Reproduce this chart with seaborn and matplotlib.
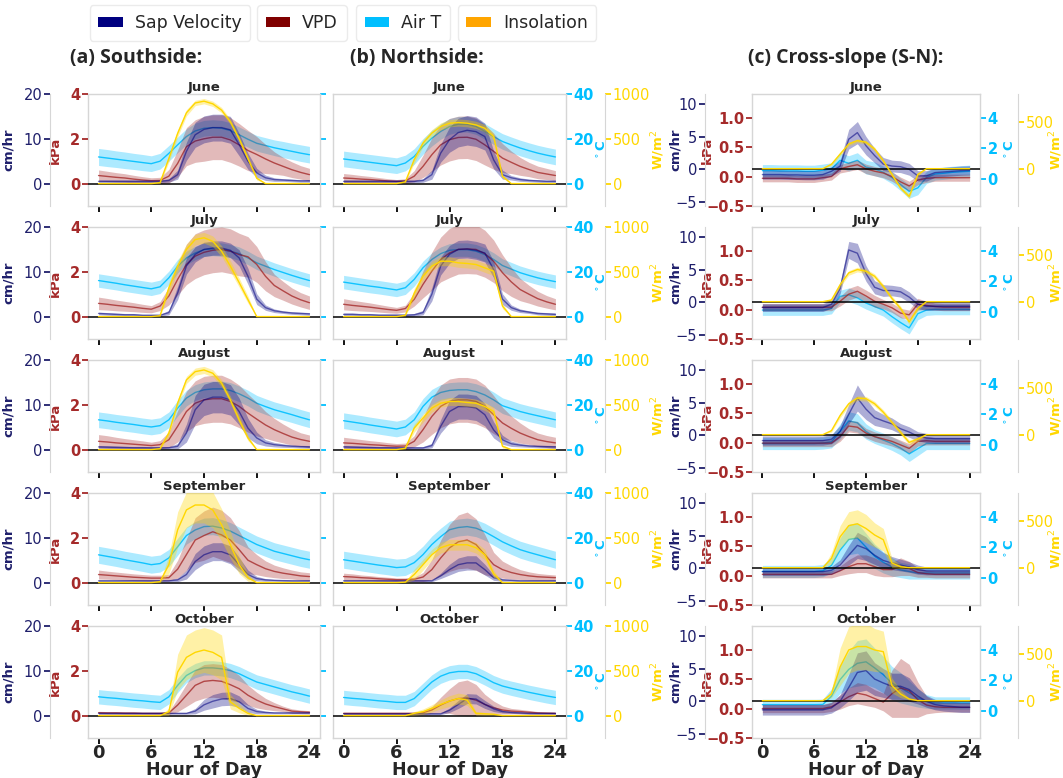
import matplotlib
matplotlib.use("Agg")
import matplotlib.pyplot as plt
from matplotlib.patches import Patch
import numpy as np
import pandas as pd
import seaborn as sns

sns.set_style("white")
plt.rcParams["font.family"] = ["DejaVu Sans"]

HOURS = list(range(25))
MONTHS = ["June", "July", "August", "September", "October"]

# ---------------- (a) Southside: hourly means and band half-widths ----------------
S_SAP = {
    "June":      [0.5,0.5,0.5,0.5,0.5,0.5,0.5,0.5,0.7,2.0,7.2,10.9,12.1,12.5,12.5,12.0,8.7,5.0,2.4,1.3,0.9,0.8,0.7,0.6,0.6],
    "July":      [0.7,0.6,0.5,0.4,0.4,0.3,0.3,0.3,0.9,5.3,11.3,13.9,15.0,15.3,15.3,14.8,13.1,9.0,3.9,2.0,1.3,1.0,0.8,0.7,0.6],
    "August":    [0.6,0.55,0.5,0.45,0.4,0.4,0.37,0.37,0.4,0.74,3.7,8.9,11.1,11.7,11.7,11.1,8.5,4.8,2.6,1.5,1.1,0.9,0.75,0.65,0.6],
    "September": [0.4,0.4,0.4,0.4,0.4,0.4,0.4,0.4,0.4,0.6,1.8,4.7,6.2,6.9,6.9,6.2,4.0,1.8,0.9,0.6,0.5,0.45,0.4,0.4,0.4],
    "October":   [0.5,0.5,0.5,0.5,0.5,0.5,0.5,0.5,0.5,0.5,0.5,1.0,2.4,3.2,3.7,3.8,3.1,1.6,0.9,0.7,0.6,0.6,0.6,0.6,0.6],
}
S_SAP_SD = {
    "June":      [0.3,0.3,0.3,0.3,0.3,0.3,0.3,0.3,0.4,1.0,2.0,2.8,3.0,3.0,3.0,3.0,2.5,1.8,1.0,0.6,0.4,0.3,0.3,0.3,0.3],
    "July":      [0.3,0.3,0.3,0.3,0.3,0.2,0.2,0.2,0.5,1.5,1.8,1.7,1.6,1.6,1.6,1.6,1.8,1.8,1.2,0.6,0.4,0.3,0.3,0.3,0.3],
    "August":    [0.3,0.3,0.3,0.3,0.3,0.3,0.3,0.3,0.3,0.6,2.0,3.2,3.5,3.5,3.5,3.4,3.0,2.2,1.3,0.7,0.5,0.4,0.3,0.3,0.3],
    "September": [0.2,0.2,0.2,0.2,0.2,0.2,0.2,0.2,0.2,0.4,1.0,1.8,2.0,2.0,2.0,2.0,1.6,1.0,0.5,0.3,0.2,0.2,0.2,0.2,0.2],
    "October":   [0.2,0.2,0.2,0.2,0.2,0.2,0.2,0.2,0.2,0.2,0.2,0.6,1.2,1.5,1.5,1.5,1.3,0.9,0.5,0.3,0.2,0.2,0.2,0.2,0.2],
}
S_VPD = {
    "June":      [0.36,0.32,0.28,0.25,0.2,0.16,0.13,0.14,0.33,0.9,1.65,1.9,2.0,2.07,2.07,1.95,1.73,1.48,1.3,1.1,0.92,0.77,0.62,0.5,0.4],
    "July":      [0.59,0.55,0.5,0.46,0.42,0.37,0.33,0.47,0.92,1.66,2.33,2.7,2.87,2.96,3.0,2.92,2.77,2.67,2.33,1.8,1.39,1.15,0.92,0.75,0.62],
    "August":    [0.37,0.34,0.3,0.27,0.24,0.21,0.18,0.22,0.44,1.04,1.7,2.07,2.22,2.27,2.27,2.15,1.93,1.63,1.36,1.1,0.89,0.72,0.56,0.45,0.37],
    "September": [0.36,0.33,0.3,0.27,0.24,0.22,0.2,0.2,0.22,0.6,1.25,1.9,2.1,2.27,2.13,1.9,1.47,1.0,0.8,0.62,0.5,0.42,0.36,0.3,0.27],
    "October":   [0.13,0.12,0.12,0.11,0.11,0.1,0.1,0.1,0.12,0.47,0.91,1.35,1.53,1.57,1.53,1.38,1.2,0.91,0.69,0.52,0.4,0.3,0.2,0.17,0.15],
}
S_VPD_SD = {
    "June":      [0.25,0.23,0.21,0.19,0.17,0.15,0.13,0.14,0.3,0.6,0.85,0.95,1.0,1.0,1.0,1.0,0.95,0.9,0.8,0.65,0.5,0.4,0.35,0.3,0.28],
    "July":      [0.28,0.26,0.24,0.22,0.2,0.18,0.16,0.2,0.4,0.7,0.9,1.0,1.0,1.0,1.0,1.0,0.95,0.9,0.8,0.65,0.5,0.42,0.36,0.32,0.3],
    "August":    [0.3,0.28,0.25,0.22,0.2,0.18,0.15,0.18,0.35,0.7,0.9,1.0,1.05,1.05,1.05,1.0,0.95,0.85,0.75,0.6,0.5,0.42,0.36,0.3,0.28],
    "September": [0.2,0.18,0.17,0.16,0.15,0.14,0.13,0.13,0.14,0.4,0.7,1.0,1.1,1.1,1.1,1.0,0.85,0.6,0.45,0.35,0.28,0.24,0.2,0.18,0.17],
    "October":   [0.06,0.06,0.06,0.06,0.06,0.05,0.05,0.05,0.06,0.3,0.5,0.7,0.75,0.75,0.75,0.7,0.6,0.45,0.35,0.25,0.18,0.12,0.1,0.08,0.07],
}
S_TAIR = {
    "June":      [11.9,11.4,10.9,10.4,9.9,9.4,8.9,10.0,13.5,17.3,21.0,23.5,24.7,25.0,24.7,23.7,21.8,19.8,18.0,17.0,16.0,15.2,14.4,13.6,12.9],
    "July":      [16.1,15.5,14.9,14.2,13.6,13.0,12.4,13.3,17.3,22.5,26.2,28.4,29.9,30.2,29.9,29.2,28.1,26.2,24.0,22.5,21.0,19.7,18.4,17.2,16.1],
    "August":    [13.3,12.8,12.2,11.7,11.2,10.6,10.1,10.7,13.3,18.5,23.0,25.5,26.7,27.1,27.1,26.4,24.9,23.0,20.7,19.2,17.8,16.7,15.6,14.4,13.3],
    "September": [12.4,11.7,11.0,10.2,9.5,8.8,8.0,8.5,11.0,16.0,21.0,23.5,25.0,25.2,24.4,23.0,21.0,19.0,17.0,15.5,14.0,13.0,12.0,11.0,10.2],
    "October":   [8.4,8.0,7.7,7.3,6.9,6.6,6.2,5.9,8.4,13.5,17.9,20.1,21.3,21.3,20.9,20.1,18.7,16.8,15.0,13.9,12.8,11.7,10.6,9.7,8.7],
}
S_TAIR_SD = {
    "June":      [3.8,3.8,3.7,3.7,3.6,3.6,3.5,3.5,3.5,3.5,3.5,3.5,3.5,3.5,3.5,3.5,3.5,3.5,3.5,3.5,3.5,3.6,3.6,3.7,3.7],
    "July":      [3.0,3.0,3.0,3.0,3.0,3.0,3.0,3.0,3.0,3.0,3.0,3.0,3.0,3.0,3.0,3.0,3.0,3.0,3.0,3.0,3.0,3.0,3.0,3.0,3.0],
    "August":    [3.5,3.5,3.5,3.5,3.5,3.5,3.5,3.5,3.5,3.5,3.5,3.5,3.5,3.5,3.5,3.5,3.5,3.5,3.5,3.5,3.5,3.5,3.5,3.5,3.5],
    "September": [3.8,3.8,3.8,3.8,3.8,3.8,3.8,3.8,3.8,3.8,3.8,3.8,3.8,3.8,3.8,3.8,3.8,3.8,3.8,3.8,3.8,3.8,3.8,3.8,3.8],
    "October":   [3.2,3.2,3.2,3.2,3.2,3.2,3.2,3.2,3.2,3.2,3.2,3.2,3.2,3.2,3.2,3.2,3.2,3.2,3.2,3.2,3.2,3.2,3.2,3.2,3.2],
}
S_INS = {
    "June":      [0,0,0,0,0,0,0,10,280,560,790,900,920,890,820,690,500,280,60,0,0,0,0,0,0],
    "July":      [0,0,0,0,0,0,0,10,320,560,750,860,880,840,730,563,380,190,0,0,0,0,0,0,0],
    "August":    [0,0,0,0,0,0,0,10,185,518,778,870,889,852,741,555,333,130,0,0,0,0,0,0,0],
    "September": [0,0,0,0,0,0,0,10,200,589,811,866,866,811,644,422,200,55,0,0,0,0,0,0,0],
    "October":   [0,0,0,0,0,0,0,0,44,485,650,706,732,706,650,154,81,25,0,0,0,0,0,0,0],
}
S_INS_SD = {
    "June":      [0,0,0,0,0,0,0,10,40,40,35,30,30,30,30,30,30,30,20,0,0,0,0,0,0],
    "July":      [0,0,0,0,0,0,0,10,60,60,60,60,60,60,60,60,50,40,0,0,0,0,0,0,0],
    "August":    [0,0,0,0,0,0,0,10,40,40,40,40,40,40,40,40,40,30,0,0,0,0,0,0,0],
    "September": [0,0,0,0,0,0,0,10,100,200,200,200,200,200,180,150,100,40,0,0,0,0,0,0,0],
    "October":   [0,0,0,0,0,0,0,0,40,200,250,250,250,250,250,80,50,20,0,0,0,0,0,0,0],
}

# ---------------- (b) Northside ----------------
N_SAP = {
    "June":      [0.5,0.5,0.5,0.5,0.5,0.5,0.5,0.5,0.5,0.7,2.0,6.8,9.8,11.4,11.9,11.6,10.5,5.3,2.0,1.3,0.9,0.7,0.6,0.5,0.5],
    "July":      [0.5,0.5,0.4,0.4,0.3,0.3,0.3,0.3,0.4,0.9,5.0,11.3,13.9,15.0,15.1,14.8,14.2,10.5,3.9,2.0,1.3,1.0,0.7,0.6,0.5],
    "August":    [0.6,0.55,0.5,0.45,0.4,0.4,0.37,0.37,0.37,0.37,0.9,5.2,8.5,9.6,9.6,9.3,7.8,4.4,2.2,1.3,1.0,0.8,0.7,0.65,0.6],
    "September": [0.4,0.4,0.4,0.4,0.4,0.4,0.4,0.4,0.4,0.4,0.4,1.5,2.9,4.0,4.4,4.4,2.9,1.1,0.6,0.5,0.4,0.4,0.4,0.4,0.4],
    "October":   [0.4,0.4,0.4,0.4,0.4,0.4,0.4,0.4,0.4,0.4,0.4,0.4,1.2,2.5,3.8,3.7,2.5,1.5,0.9,0.7,0.6,0.5,0.5,0.5,0.5],
}
N_SAP_SD = {
    "June":      [0.3,0.3,0.3,0.3,0.3,0.3,0.3,0.3,0.3,0.4,1.0,2.0,2.8,3.2,3.3,3.3,3.0,2.0,1.0,0.5,0.4,0.3,0.3,0.3,0.3],
    "July":      [0.3,0.3,0.3,0.3,0.3,0.3,0.3,0.3,0.3,0.5,1.5,2.0,2.0,2.0,2.0,2.0,2.0,1.8,1.2,0.6,0.4,0.3,0.3,0.3,0.3],
    "August":    [0.3,0.3,0.3,0.3,0.3,0.3,0.3,0.3,0.3,0.3,0.5,1.5,2.5,2.8,2.8,2.8,2.5,1.8,1.0,0.6,0.4,0.3,0.3,0.3,0.3],
    "September": [0.2,0.2,0.2,0.2,0.2,0.2,0.2,0.2,0.2,0.2,0.2,0.6,1.2,1.5,1.6,1.6,1.2,0.6,0.3,0.2,0.2,0.2,0.2,0.2,0.2],
    "October":   [0.2,0.2,0.2,0.2,0.2,0.2,0.2,0.2,0.2,0.2,0.2,0.2,0.5,0.9,1.1,1.1,0.9,0.6,0.3,0.2,0.2,0.2,0.2,0.2,0.2],
}
N_VPD = {
    "June":      [0.25,0.23,0.2,0.18,0.15,0.12,0.1,0.12,0.33,0.77,1.29,1.73,1.96,2.06,2.07,1.98,1.73,1.44,1.14,0.95,0.77,0.63,0.5,0.43,0.36],
    "July":      [0.55,0.5,0.46,0.42,0.37,0.32,0.28,0.36,0.77,1.44,2.03,2.55,2.84,3.0,3.02,3.0,2.81,2.47,1.96,1.55,1.21,1.0,0.8,0.66,0.55],
    "August":    [0.3,0.28,0.25,0.22,0.2,0.17,0.15,0.16,0.37,0.89,1.48,1.93,2.15,2.22,2.22,2.15,1.93,1.56,1.19,0.95,0.74,0.58,0.44,0.36,0.3],
    "September": [0.27,0.25,0.22,0.2,0.17,0.15,0.13,0.13,0.15,0.25,0.58,1.1,1.55,1.82,1.9,1.7,1.25,0.8,0.58,0.45,0.36,0.3,0.26,0.24,0.22],
    "October":   [0.1,0.1,0.1,0.1,0.1,0.1,0.1,0.1,0.1,0.13,0.25,0.47,0.65,0.76,0.79,0.69,0.5,0.35,0.25,0.2,0.18,0.15,0.12,0.11,0.1],
}
N_VPD_SD = {
    "June":      [0.2,0.18,0.16,0.14,0.12,0.1,0.08,0.1,0.25,0.5,0.75,0.9,0.95,0.95,0.95,0.95,0.9,0.8,0.65,0.5,0.4,0.32,0.28,0.25,0.22],
    "July":      [0.25,0.23,0.21,0.19,0.17,0.15,0.13,0.15,0.3,0.6,0.85,1.0,1.1,1.1,1.1,1.1,1.05,0.95,0.8,0.65,0.5,0.4,0.33,0.28,0.25],
    "August":    [0.25,0.22,0.2,0.18,0.16,0.14,0.12,0.13,0.25,0.55,0.8,0.95,1.0,1.0,1.0,1.0,0.95,0.85,0.7,0.55,0.45,0.35,0.3,0.27,0.25],
    "September": [0.15,0.14,0.12,0.11,0.1,0.09,0.08,0.08,0.09,0.2,0.45,0.8,1.05,1.2,1.25,1.15,0.9,0.55,0.38,0.3,0.22,0.18,0.15,0.13,0.12],
    "October":   [0.05,0.05,0.05,0.05,0.05,0.05,0.05,0.05,0.05,0.08,0.15,0.35,0.55,0.75,0.8,0.7,0.45,0.3,0.18,0.12,0.1,0.08,0.06,0.05,0.05],
}
N_TAIR = {
    "June":      [11.0,10.5,10.0,9.5,9.0,8.5,8.0,9.2,12.1,16.6,20.3,23.3,25.5,26.5,26.5,25.5,23.3,21.0,18.8,17.3,15.9,14.7,13.6,12.7,11.9],
    "July":      [15.4,14.8,14.2,13.6,13.1,12.5,11.9,12.9,16.6,21.8,25.5,28.1,29.6,29.9,29.9,29.2,27.7,25.5,22.8,21.2,19.6,18.4,17.3,16.4,15.6],
    "August":    [12.9,12.3,11.7,11.0,10.4,9.8,9.2,10.1,13.3,19.3,23.4,25.5,26.4,26.7,26.7,25.9,24.4,22.2,19.6,18.3,17.0,16.0,15.1,14.2,13.3],
    "September": [10.2,9.6,9.0,8.4,7.8,7.3,6.7,7.0,8.9,12.5,17.0,20.5,23.6,24.6,25.0,24.3,22.7,20.5,18.2,16.4,14.7,13.5,12.4,11.3,10.2],
    "October":   [8.1,7.7,7.4,7.0,6.6,6.3,5.9,5.9,7.6,11.3,15.0,17.6,19.1,19.7,19.7,18.7,16.8,14.7,13.2,12.2,11.3,10.4,9.6,8.8,8.1],
}
N_TAIR_SD = {
    "June":      [3.5,3.5,3.5,3.5,3.5,3.5,3.5,3.5,3.5,3.5,3.5,3.5,3.5,3.5,3.5,3.5,3.5,3.5,3.5,3.5,3.5,3.5,3.5,3.5,3.5],
    "July":      [3.0,3.0,3.0,3.0,3.0,3.0,3.0,3.0,3.0,3.0,3.0,3.0,3.0,3.0,3.0,3.0,3.0,3.0,3.0,3.0,3.0,3.0,3.0,3.0,3.0],
    "August":    [3.5,3.5,3.5,3.5,3.5,3.5,3.5,3.5,3.5,3.5,3.5,3.5,3.5,3.5,3.5,3.5,3.5,3.5,3.5,3.5,3.5,3.5,3.5,3.5,3.5],
    "September": [3.8,3.8,3.8,3.8,3.8,3.8,3.8,3.8,3.8,3.8,3.8,3.8,3.8,3.8,3.8,3.8,3.8,3.8,3.8,3.8,3.8,3.8,3.8,3.8,3.8],
    "October":   [3.2,3.2,3.2,3.2,3.2,3.2,3.2,3.2,3.2,3.2,3.2,3.2,3.2,3.2,3.2,3.2,3.2,3.2,3.2,3.2,3.2,3.2,3.2,3.2,3.2],
}
N_INS = {
    "June":      [0,0,0,0,0,0,0,20,267,452,563,637,674,681,674,655,618,526,81,0,0,0,0,0,0],
    "July":      [0,0,0,0,0,0,0,15,260,450,563,618,618,600,593,581,544,507,118,0,0,0,0,0,0],
    "August":    [0,0,0,0,0,0,0,15,240,352,463,518,537,537,526,518,481,426,37,0,0,0,0,0,0],
    "September": [0,0,0,0,0,0,0,5,90,200,311,389,422,422,422,389,311,100,0,0,0,0,0,0,0],
    "October":   [0,0,0,0,0,0,0,0,25,44,81,125,162,191,173,25,20,15,0,0,0,0,0,0,0],
}
N_INS_SD = {
    "June":      [0,0,0,0,0,0,0,10,40,40,40,40,40,40,40,40,40,40,20,0,0,0,0,0,0],
    "July":      [0,0,0,0,0,0,0,10,50,50,50,50,50,50,50,50,50,50,30,0,0,0,0,0,0],
    "August":    [0,0,0,0,0,0,0,10,45,45,45,45,45,45,45,45,45,45,20,0,0,0,0,0,0],
    "September": [0,0,0,0,0,0,0,5,60,60,60,60,60,60,60,60,60,40,0,0,0,0,0,0,0],
    "October":   [0,0,0,0,0,0,0,0,20,30,40,50,60,60,60,20,15,10,0,0,0,0,0,0,0],
}

# ---------------- (c) Cross-slope (S-N) differences ----------------
C_SAP = {
    "June":      [-0.8,-0.8,-0.8,-0.85,-0.85,-0.9,-0.9,-0.8,-0.3,0.5,4.6,5.6,3.6,2.1,0.8,0.5,0.4,0.0,-1.0,-1.0,-0.5,-0.4,-0.3,-0.2,-0.15],
    "July":      [-0.8,-0.8,-0.8,-0.8,-0.8,-0.8,-0.8,-0.8,-0.3,2.1,8.0,7.5,4.4,2.3,1.8,1.8,1.6,0.8,-0.3,-0.6,-0.6,-0.6,-0.6,-0.6,-0.6],
    "August":    [-0.8,-0.8,-0.8,-0.8,-0.8,-0.8,-0.8,-0.8,-0.6,0.6,3.2,5.7,4.0,2.7,2.2,1.75,1.0,0.5,-0.15,-0.4,-0.5,-0.5,-0.5,-0.5,-0.5],
    "September": [-0.5,-0.5,-0.5,-0.5,-0.5,-0.5,-0.5,-0.5,-0.3,0.5,2.0,3.5,3.0,2.0,1.2,0.8,0.5,0.2,-0.2,-0.4,-0.4,-0.4,-0.4,-0.4,-0.4],
    "October":   [-1.3,-1.3,-1.3,-1.3,-1.3,-1.3,-1.3,-1.3,-1.0,0.0,2.1,4.4,4.7,3.4,2.8,2.3,2.3,1.8,0.8,0.0,-0.5,-0.7,-0.8,-0.9,-0.9],
}
C_SAP_SD = {
    "June":      [0.7,0.7,0.7,0.7,0.7,0.7,0.7,0.7,0.7,0.8,1.5,1.7,1.4,1.1,1.0,0.9,0.9,0.9,0.8,0.8,0.7,0.7,0.7,0.7,0.7],
    "July":      [0.6,0.6,0.6,0.6,0.6,0.6,0.6,0.6,0.6,0.8,1.3,1.5,1.2,1.0,0.9,0.8,0.8,0.8,0.7,0.6,0.6,0.6,0.6,0.6,0.6],
    "August":    [0.7,0.7,0.7,0.7,0.7,0.7,0.7,0.7,0.7,0.9,1.5,2.0,1.6,1.2,1.0,0.9,0.8,0.8,0.7,0.7,0.7,0.7,0.7,0.7,0.7],
    "September": [0.6,0.6,0.6,0.6,0.6,0.6,0.6,0.6,0.6,0.8,1.5,2.0,1.8,1.4,1.2,1.0,0.9,0.8,0.7,0.6,0.6,0.6,0.6,0.6,0.6],
    "October":   [0.8,0.8,0.8,0.8,0.8,0.8,0.8,0.8,0.8,1.0,2.0,3.0,3.0,2.5,2.2,2.0,2.0,1.8,1.2,0.9,0.8,0.8,0.8,0.8,0.8],
}
C_VPD = {
    "June":      [-0.03,-0.03,-0.03,-0.03,-0.04,-0.04,-0.04,-0.02,0.0,0.13,0.17,0.2,0.13,0.09,0.06,0.0,-0.09,-0.16,-0.06,-0.03,-0.02,-0.02,-0.02,-0.02,-0.02],
    "July":      [0.04,0.04,0.04,0.04,0.04,0.04,0.04,0.04,0.04,0.14,0.26,0.31,0.23,0.14,0.09,0.03,-0.06,-0.09,0.09,0.07,0.05,0.04,0.04,0.04,0.04],
    "August":    [-0.01,-0.01,-0.01,-0.01,-0.01,-0.01,-0.01,-0.01,-0.01,0.1,0.28,0.26,0.16,0.1,0.06,0.02,-0.04,-0.1,0.02,0.03,0.02,0.02,0.02,0.02,0.02],
    "September": [0.02,0.02,0.02,0.02,0.02,0.02,0.02,0.02,0.02,0.08,0.15,0.2,0.2,0.15,0.1,0.1,0.15,0.12,0.05,0.03,0.02,0.02,0.02,0.02,0.02],
    "October":   [0.0,0.0,0.0,0.0,0.0,0.0,0.0,0.0,0.03,0.11,0.2,0.26,0.23,0.17,0.11,0.25,0.35,0.3,0.15,0.06,0.03,0.02,0.02,0.02,0.02],
}
C_VPD_SD = {
    "June":      [0.06,0.06,0.06,0.06,0.06,0.06,0.06,0.06,0.06,0.07,0.08,0.08,0.08,0.08,0.08,0.08,0.08,0.08,0.08,0.07,0.06,0.06,0.06,0.06,0.06],
    "July":      [0.06,0.06,0.06,0.06,0.06,0.06,0.06,0.06,0.06,0.08,0.1,0.1,0.1,0.1,0.08,0.08,0.08,0.08,0.1,0.07,0.06,0.06,0.06,0.06,0.06],
    "August":    [0.06,0.06,0.06,0.06,0.06,0.06,0.06,0.06,0.06,0.08,0.1,0.1,0.08,0.08,0.08,0.08,0.08,0.08,0.08,0.07,0.06,0.06,0.06,0.06,0.06],
    "September": [0.06,0.06,0.06,0.06,0.06,0.06,0.06,0.06,0.06,0.08,0.12,0.15,0.15,0.15,0.12,0.12,0.15,0.12,0.08,0.06,0.06,0.06,0.06,0.06,0.06],
    "October":   [0.07,0.07,0.07,0.07,0.07,0.07,0.07,0.07,0.08,0.12,0.15,0.18,0.18,0.15,0.15,0.4,0.5,0.45,0.3,0.15,0.1,0.08,0.08,0.08,0.08],
}
C_TAIR = {
    "June":      [0.52,0.52,0.5,0.5,0.5,0.48,0.48,0.55,0.64,1.2,1.0,1.2,0.75,0.64,0.41,0.07,-0.39,-0.84,-0.61,0.07,0.3,0.35,0.41,0.45,0.48],
    "July":      [0.1,0.1,0.1,0.1,0.1,0.1,0.1,0.1,0.2,1.0,1.1,0.9,0.56,0.33,0.1,-0.33,-0.72,-1.07,-0.14,0.1,0.14,0.14,0.14,0.14,0.14],
    "August":    [0.07,0.07,0.07,0.07,0.07,0.07,0.07,0.1,0.18,0.86,1.55,1.43,0.86,0.52,0.3,0.07,-0.23,-0.61,-0.27,0.07,0.07,0.07,0.07,0.07,0.07],
    "September": [0.4,0.4,0.4,0.4,0.4,0.4,0.4,0.45,0.8,1.8,2.5,2.6,2.0,1.4,1.0,0.7,0.5,0.4,0.3,0.3,0.3,0.3,0.3,0.3,0.3],
    "October":   [0.39,0.39,0.39,0.39,0.39,0.39,0.39,0.4,0.94,2.03,2.7,3.1,3.2,2.8,2.36,1.8,1.5,1.16,0.83,0.6,0.5,0.5,0.5,0.5,0.5],
}
C_TAIR_SD = {
    "June":      [0.4,0.4,0.4,0.4,0.4,0.4,0.4,0.4,0.4,0.5,0.5,0.5,0.45,0.45,0.4,0.4,0.4,0.45,0.45,0.4,0.4,0.4,0.4,0.4,0.4],
    "July":      [0.35,0.35,0.35,0.35,0.35,0.35,0.35,0.35,0.35,0.4,0.45,0.45,0.4,0.4,0.4,0.4,0.4,0.4,0.4,0.35,0.35,0.35,0.35,0.35,0.35],
    "August":    [0.4,0.4,0.4,0.4,0.4,0.4,0.4,0.4,0.4,0.5,0.6,0.6,0.5,0.45,0.45,0.45,0.45,0.5,0.45,0.4,0.4,0.4,0.4,0.4,0.4],
    "September": [0.4,0.4,0.4,0.4,0.4,0.4,0.4,0.4,0.5,0.8,1.0,1.0,0.9,0.8,0.7,0.6,0.5,0.5,0.4,0.4,0.4,0.4,0.4,0.4,0.4],
    "October":   [0.35,0.35,0.35,0.35,0.35,0.35,0.35,0.35,0.5,0.9,1.2,1.5,1.5,1.3,1.2,1.1,1.0,0.8,0.6,0.45,0.4,0.4,0.4,0.4,0.4],
}
C_INS = {
    "June":      [0,0,0,0,0,0,0,0,47,156,264,300,283,210,83,-62,-207,-297,-62,0,0,0,0,0,0],
    "July":      [0,0,0,0,0,0,0,0,18,181,308,344,326,272,163,36,-72,-217,-72,0,0,0,0,0,0],
    "August":    [0,0,0,0,0,0,0,0,43,205,331,392,385,331,241,133,25,-83,-47,0,0,0,0,0,0],
    "September": [0,0,0,0,0,0,0,0,100,330,450,470,420,350,300,50,10,0,0,0,0,0,0,0,0],
    "October":   [0,0,0,0,0,0,0,0,72,362,543,580,580,543,525,163,72,18,0,0,0,0,0,0,0],
}
C_INS_SD = {
    "June":      [0,0,0,0,0,0,0,0,15,20,20,20,20,20,20,20,20,25,20,0,0,0,0,0,0],
    "July":      [0,0,0,0,0,0,0,0,15,25,25,25,25,25,25,25,25,30,25,0,0,0,0,0,0],
    "August":    [0,0,0,0,0,0,0,0,15,25,25,25,25,25,25,25,25,25,25,0,0,0,0,0,0],
    "September": [0,0,0,0,0,0,0,0,60,120,150,150,150,130,120,50,20,0,0,0,0,0,0,0,0],
    "October":   [0,0,0,0,0,0,0,0,40,200,250,250,250,230,220,80,40,10,0,0,0,0,0,0,0],
}

COLUMNS = [
    dict(sap=S_SAP, sap_sd=S_SAP_SD, vpd=S_VPD, vpd_sd=S_VPD_SD, tair=S_TAIR, tair_sd=S_TAIR_SD, ins=S_INS, ins_sd=S_INS_SD),
    dict(sap=N_SAP, sap_sd=N_SAP_SD, vpd=N_VPD, vpd_sd=N_VPD_SD, tair=N_TAIR, tair_sd=N_TAIR_SD, ins=N_INS, ins_sd=N_INS_SD),
    dict(sap=C_SAP, sap_sd=C_SAP_SD, vpd=C_VPD, vpd_sd=C_VPD_SD, tair=C_TAIR, tair_sd=C_TAIR_SD, ins=C_INS, ins_sd=C_INS_SD),
]
COLUMN_TITLES = ["(a) Southside:", "(b) Northside:", "(c) Cross-slope (S-N):"]

# colours
SAP_C, VPD_C, TAIR_C, INS_C = "navy", "brown", "deepskyblue", "gold"
SAP_TXT, VPD_TXT, TAIR_TXT, INS_TXT = "#1f1f6b", "#a52a2a", "#00bfff", "#ffd700"
BOX_C = "#d6d6d6"

# y-limits and ticks for the four stacked axes
LIMS_SIDE = dict(sap=(-5, 20), vpd=(-1, 4), tair=(-10, 40), ins=(-250, 1000))
LIMS_CROSS = dict(sap=(-5.6, 11.5), vpd=(-0.5, 1.4), tair=(-1.8, 5.55), ins=(-400, 800))
TICKS_SIDE = dict(sap=[0, 10, 20], vpd=[0, 2, 4], tair=[0, 20, 40], ins=[0, 500, 1000])
TICKS_CROSS = dict(sap=[-5, 0, 5, 10], vpd=[-0.5, 0.0, 0.5, 1.0], tair=[0, 2, 4], ins=[0, 500])

W, H = 1063, 778
DPI = 100
fig = plt.figure(figsize=(W / DPI, H / DPI), dpi=DPI)

COL_X = [(88, 232), (333, 233), (752, 228)]
ROW_TOP = [94, 227, 360, 493, 626]
BOX_H = 112
# horizontal centres (figure px) of the y-axis titles per column
LABEL_X = {0: dict(sap=15, vpd=62), 1: dict(tair=596, ins=649),
           2: dict(sap=682, vpd=714, tair=1004, ins=1047)}
# outward offsets (px) of the extra sap-velocity / insolation spines
SAP_OFFSET = {0: 38, 2: 47}
INS_OFFSET = {1: 39, 2: 38}


def px_to_pt(px):
    return px * 72.0 / DPI


def band_frame(mean, sd):
    rows = []
    for h, m, s in zip(HOURS, mean, sd):
        rows += [(h, m - s), (h, m), (h, m + s)]
    return pd.DataFrame(rows, columns=["hour", "value"])


def draw_series(ax, mean, sd, color, line_alpha, band_alpha, lw=1.0):
    sns.lineplot(data=band_frame(mean, sd), x="hour", y="value", ax=ax,
                 estimator="median", errorbar=("pi", 100), color=color,
                 alpha=line_alpha, linewidth=lw,
                 err_kws={"alpha": band_alpha, "linewidth": 0})
    ax.set_xlabel("")
    ax.set_ylabel("")


def style_y(ax, color, side, show_labels, ticks, lim, label_fmt=None):
    ax.set_ylim(*lim)
    ax.set_yticks(ticks)
    if label_fmt:
        ax.set_yticklabels([label_fmt(t) for t in ticks])
    if side == "left":
        ax.yaxis.tick_left()
        ax.yaxis.set_label_position("left")
    else:
        ax.yaxis.tick_right()
        ax.yaxis.set_label_position("right")
    ax.tick_params(axis="y", colors=color, labelsize=10.5, length=4, width=1.3,
                   labelleft=(side == "left" and show_labels),
                   labelright=(side == "right" and show_labels), pad=1.5)
    for lab in ax.get_yticklabels():
        lab.set_fontweight("bold")


def vpd_fmt_cross(t):
    return f"{t:.1f}".replace("-", "\u2212")


def place_ylabel(ax, text, color, x_px, x0, w):
    ax.set_ylabel(text, color=color, fontsize=9.5, fontweight="bold")
    ax.yaxis.set_label_coords((x_px - x0) / w, 0.5)


for ci, col in enumerate(COLUMNS):
    x0, w = COL_X[ci]
    cross = ci == 2
    lims = LIMS_CROSS if cross else LIMS_SIDE
    ticks = TICKS_CROSS if cross else TICKS_SIDE
    for ri, month in enumerate(MONTHS):
        top = ROW_TOP[ri]
        rect = [x0 / W, 1 - (top + BOX_H) / H, w / W, BOX_H / H]
        host = fig.add_axes(rect)           # air temperature
        ax_vpd = host.twinx()
        ax_sap = host.twinx()
        ax_ins = host.twinx()

        draw_series(host, col["tair"][month], col["tair_sd"][month], TAIR_C, 0.9, 0.32)
        draw_series(ax_vpd, col["vpd"][month], col["vpd_sd"][month], VPD_C, 0.8, 0.32)
        draw_series(ax_sap, col["sap"][month], col["sap_sd"][month], SAP_C, 0.55, 0.32)
        draw_series(ax_ins, col["ins"][month], col["ins_sd"][month], INS_C, 1.0, 0.35)
        ax_sap.axhline(0, color="black", linewidth=1.1, zorder=5)

        host.set_xlim(-1.2, 25.2)
        host.set_xticks([0, 6, 12, 18, 24])

        for ax in (ax_vpd, ax_sap, ax_ins):
            for s in ax.spines.values():
                s.set_visible(False)
        for s in host.spines.values():
            s.set_color(BOX_C)
            s.set_linewidth(1.0)

        style_y(host, TAIR_TXT, "right", ci != 0, ticks["tair"], lims["tair"])
        style_y(ax_vpd, VPD_TXT, "left", True, ticks["vpd"], lims["vpd"],
                vpd_fmt_cross if cross else None)
        style_y(ax_sap, SAP_TXT, "left", True, ticks["sap"], lims["sap"])
        style_y(ax_ins, INS_TXT, "right", True, ticks["ins"], lims["ins"])

        if ci == 1:
            ax_vpd.tick_params(axis="y", left=False, labelleft=False)
            ax_sap.tick_params(axis="y", left=False, labelleft=False)
        if ci == 0:
            ax_ins.tick_params(axis="y", right=False, labelright=False)

        lx = LABEL_X[ci]
        if ci in (0, 2):
            sp = ax_sap.spines["left"]
            sp.set_visible(True)
            sp.set_position(("outward", px_to_pt(SAP_OFFSET[ci])))
            sp.set_color(BOX_C)
            place_ylabel(ax_sap, "cm/hr", SAP_TXT, lx["sap"], x0, w)
            place_ylabel(ax_vpd, "kPa", VPD_TXT, lx["vpd"], x0, w)
        if ci in (1, 2):
            sp = ax_ins.spines["right"]
            sp.set_visible(True)
            sp.set_position(("outward", px_to_pt(INS_OFFSET[ci])))
            sp.set_color(BOX_C)
            place_ylabel(host, "$^\\circ$C", TAIR_TXT, lx["tair"], x0, w)
            place_ylabel(ax_ins, "W/m$^2$", INS_TXT, lx["ins"], x0, w)

        host.set_title(month, fontsize=9.5, fontweight="bold", pad=2)
        host.tick_params(axis="x", bottom=True, length=4, width=1.3, color="black",
                         labelsize=13, pad=0.5)
        if ri < len(MONTHS) - 1:
            host.tick_params(axis="x", labelbottom=False)
        else:
            for lab in host.get_xticklabels():
                lab.set_fontweight("bold")
            host.set_xlabel("Hour of Day", fontsize=12.5, fontweight="bold", labelpad=-1)

# column headings
for ci, title in enumerate(COLUMN_TITLES):
    fig.text([70, 350, 748][ci] / W, 1 - 58 / H, title, fontsize=14,
             fontweight="bold", family="Open Sans", va="center", ha="left")

# legend boxes, one per variable
LEGEND_NAMES = ["Sap Velocity", "VPD", "Air T", "Insolation"]
LEGEND_COLORS = ["navy", "maroon", "deepskyblue", "orange"]
LEGEND_X = [170, 302, 403, 527]
for name, color, xc in zip(LEGEND_NAMES, LEGEND_COLORS, LEGEND_X):
    fig.legend(handles=[Patch(facecolor=color, edgecolor="none", label=name)],
               loc="center", bbox_to_anchor=(xc / W, 1 - 23 / H), fontsize=12.5,
               handlelength=1.4, handleheight=0.5, handletextpad=0.7,
               borderpad=0.5, frameon=True, edgecolor="#e6e6e6", fancybox=True)

fig.savefig("out.png", dpi=DPI)
